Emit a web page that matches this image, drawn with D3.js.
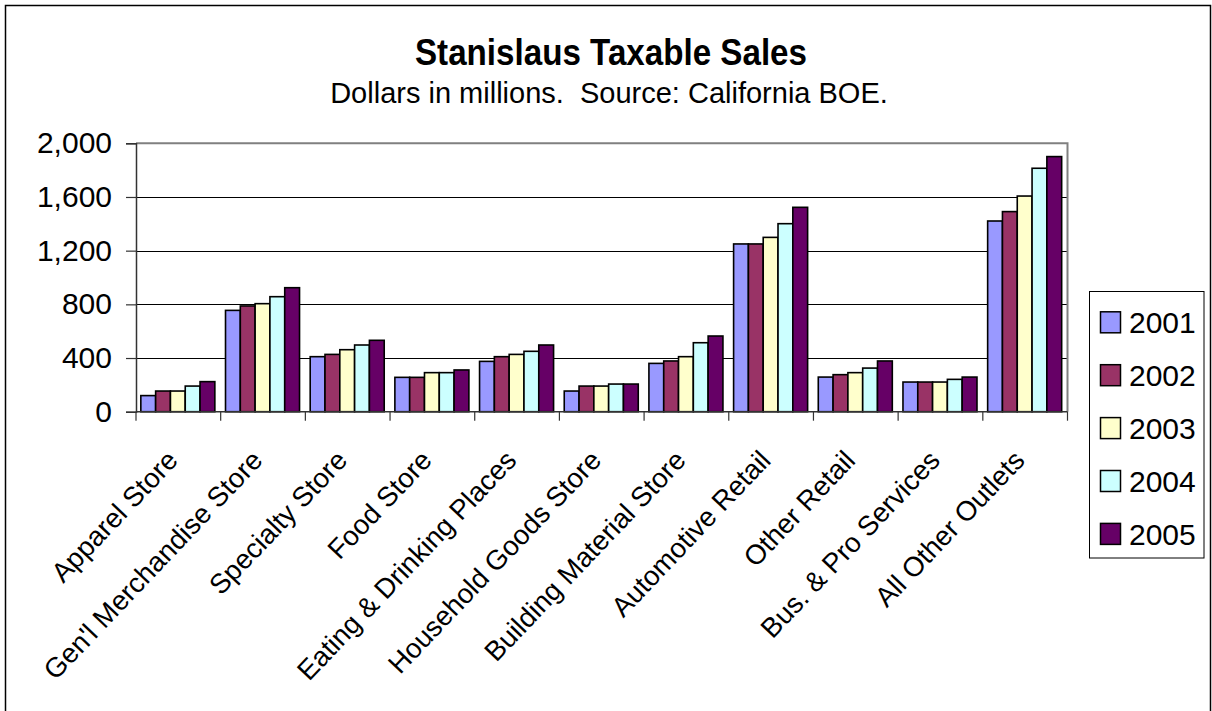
<!DOCTYPE html>
<html>
<head>
<meta charset="utf-8">
<script src="https://cdn.jsdelivr.net/npm/d3@7/dist/d3.min.js"></script>
<style>
  html, body { margin: 0; padding: 0; background: #fff; }
  svg { display: block; font-family: "Liberation Sans", Arial, Helvetica, sans-serif; }
</style>
</head>
<body>
<svg id="chart" width="1212" height="711"></svg>
<script>
// Taxable sales by outlet type, dollars in millions
const categories = [
  "Apparel Store", "Gen'l Merchandise Store", "Specialty Store", "Food Store",
  "Eating & Drinking Places", "Household Goods Store", "Building Material Store",
  "Automotive Retail", "Other Retail", "Bus. & Pro Services", "All Other Outlets"
];
const years = ["2001", "2002", "2003", "2004", "2005"];
const sales2001 = [120, 755, 410, 256, 375, 154, 360, 1250, 258, 221, 1421];
const sales2002 = [154, 788, 427, 256, 410, 191, 378, 1250, 276, 221, 1491];
const sales2003 = [154, 805, 462, 291, 427, 191, 410, 1299, 291, 221, 1607];
const sales2004 = [191, 857, 497, 291, 450, 206, 514, 1401, 325, 241, 1814];
const sales2005 = [224, 924, 532, 311, 497, 206, 564, 1523, 378, 258, 1901];
const yTicks = [0, 400, 800, 1200, 1600, 2000];
const colors = ["#9999FF", "#993366", "#FFFFCC", "#CCFFFF", "#660066"];

const series = [sales2001, sales2002, sales2003, sales2004, sales2005];

const svg = d3.select("#chart");

// outer chart frame
svg.append("rect")
  .attr("x", 5.5).attr("y", 5.5)
  .attr("width", 1205).attr("height", 720)
  .attr("fill", "#fff").attr("stroke", "#000").attr("stroke-width", 1.5);

const plot = { left: 136, right: 1067.5, top: 143.3, bottom: 411.7 };

const x = d3.scaleBand().domain(categories).range([plot.left, plot.right]);
const y = d3.scaleLinear().domain([0, 2000]).range([plot.bottom, plot.top]);
const x1 = d3.scaleBand().domain(years)
  .range([0, x.bandwidth()])
  .paddingOuter(0.36).paddingInner(0);

// title block
svg.append("text")
  .attr("x", 611).attr("y", 65)
  .attr("text-anchor", "middle")
  .attr("font-size", 36).attr("font-weight", "bold")
  .attr("textLength", 392).attr("lengthAdjust", "spacingAndGlyphs")
  .text("Stanislaus Taxable Sales");
svg.append("text")
  .attr("x", 609).attr("y", 103)
  .attr("text-anchor", "middle")
  .attr("font-size", 29)
  .style("white-space", "pre")
  .text("Dollars in millions.  Source: California BOE.");

// horizontal gridlines
svg.append("g")
  .selectAll("line")
  .data(yTicks.filter(t => t > 0 && t < 2000))
  .join("line")
  .attr("x1", plot.left).attr("x2", plot.right)
  .attr("y1", d => Math.round(y(d)) + 0.5).attr("y2", d => Math.round(y(d)) + 0.5)
  .attr("stroke", "#000").attr("stroke-width", 1);

// plot area border (top and right)
svg.append("path")
  .attr("d", `M${plot.left},${plot.top}H${plot.right}V${plot.bottom}`)
  .attr("fill", "none").attr("stroke", "#808080").attr("stroke-width", 2);

// bars
const groups = svg.append("g")
  .selectAll("g")
  .data(categories)
  .join("g")
  .attr("transform", d => `translate(${x(d) - 0.5},0)`);

groups.selectAll("rect")
  .data((c, i) => years.map((yr, j) => ({ yr, j, v: series[j][i] })))
  .join("rect")
  .attr("x", d => x1(d.yr))
  .attr("width", x1.bandwidth())
  .attr("y", d => y(d.v))
  .attr("height", d => y(0) - y(d.v))
  .attr("fill", d => colors[d.j])
  .attr("stroke", "#000").attr("stroke-width", 1.6);

// y axis
const yAxis = svg.append("g")
  .attr("transform", `translate(${plot.left},0)`)
  .call(d3.axisLeft(y).tickValues(yTicks).tickSize(10).tickPadding(14)
    .tickFormat(d3.format(",")));
yAxis.select(".domain").attr("stroke", "#333").attr("stroke-width", 1.5);
yAxis.selectAll(".tick line").attr("stroke", "#333").attr("stroke-width", 1.2);
yAxis.selectAll(".tick text")
  .attr("font-size", 30).attr("fill", "#000")
  .attr("font-family", "Liberation Sans, Arial, sans-serif");

// x axis with boundary ticks between categories
const xAxisG = svg.append("g");
xAxisG.append("line")
  .attr("x1", plot.left).attr("x2", plot.right)
  .attr("y1", plot.bottom).attr("y2", plot.bottom)
  .attr("stroke", "#333").attr("stroke-width", 1.5);
const boundaries = categories.map(c => x(c)).concat([plot.right]);
xAxisG.selectAll("line.tick")
  .data(boundaries)
  .join("line")
  .attr("class", "tick")
  .attr("x1", d => d).attr("x2", d => d)
  .attr("y1", plot.bottom).attr("y2", plot.bottom + 9)
  .attr("stroke", "#333").attr("stroke-width", 1.2);

// rotated category labels
xAxisG.selectAll("text")
  .data(categories)
  .join("text")
  .attr("transform", d => `translate(${x(d) + x.bandwidth() / 2 + 1},${plot.bottom + 50}) rotate(-46.5)`)
  .attr("text-anchor", "end")
  .attr("font-size", 27.6)
  .text(d => d);

// legend
const legend = svg.append("g");
legend.append("rect")
  .attr("x", 1089.5).attr("y", 291.5)
  .attr("width", 114.5).attr("height", 266.5)
  .attr("fill", "#fff").attr("stroke", "#000").attr("stroke-width", 1);
const items = legend.selectAll("g.item")
  .data(years)
  .join("g")
  .attr("class", "item")
  .attr("transform", (d, i) => `translate(1100,${322.3 + i * 52.9})`);
items.append("rect")
  .attr("x", 0.5).attr("y", -10.5)
  .attr("width", 20).attr("height", 21)
  .attr("fill", (d, i) => colors[i])
  .attr("stroke", "#000").attr("stroke-width", 1.5);
items.append("text")
  .attr("x", 29).attr("y", 0).attr("dy", "0.36em")
  .attr("font-size", 30)
  .text(d => d);
</script>
</body>
</html>
